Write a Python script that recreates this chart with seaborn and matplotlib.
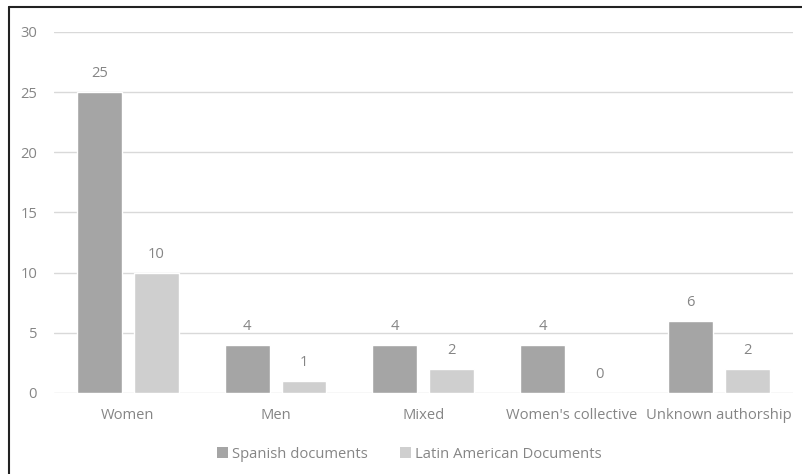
import matplotlib
matplotlib.use("Agg")
import matplotlib.pyplot as plt
import seaborn as sns
import pandas as pd
from matplotlib.lines import Line2D
from matplotlib.patches import Rectangle

categories = ["Women", "Men", "Mixed", "Women's collective", "Unknown authorship"]
spanish = [25, 4, 4, 4, 6]
latin_american = [10, 1, 2, 0, 2]
series_names = ["Spanish documents", "Latin American Documents"]
colors = ["#A5A5A5", "#CFCFCF"]

df = pd.DataFrame({
    "category": categories * 2,
    "value": spanish + latin_american,
    "series": [series_names[0]] * len(categories) + [series_names[1]] * len(categories),
})

sns.set_theme(style="white")
plt.rcParams["font.family"] = ["Open Sans", "DejaVu Sans"]
text_color = "#858585"
fs = 10.6

fig = plt.figure(figsize=(8.03, 4.74), dpi=100)
ax = fig.add_axes([0.067, 0.171, 0.9205, 0.7615])

sns.barplot(data=df, x="category", y="value", hue="series", palette=colors,
            width=0.77, gap=0.21, ax=ax, legend=False, saturation=1)

for cont in ax.containers:
    ax.bar_label(cont, padding=8, color=text_color, fontsize=fs)

ax.set_ylim(0, 30)
ax.set_yticks(range(0, 31, 5))
ax.set_xlim(-0.5, len(categories) - 0.5)
ax.yaxis.grid(True, color="#D9D9D9", linewidth=1)
ax.set_axisbelow(True)
for s in ax.spines.values():
    s.set_visible(False)
ax.tick_params(axis="both", length=0, colors=text_color, labelsize=fs)
ax.tick_params(axis="y", pad=12)
ax.tick_params(axis="x", pad=11)
ax.set_xlabel("")
ax.set_ylabel("")

handles = [Rectangle((0, 0), 1, 1, facecolor=c, edgecolor="none") for c in colors]
fig.legend(handles, series_names, loc="center", bbox_to_anchor=(0.51, 0.042), ncol=2,
           frameon=False, fontsize=fs, labelcolor=text_color, handlelength=0.7,
           handleheight=0.7, handletextpad=0.3, columnspacing=2.2)

# frame lines on the left and top edges of the figure
fig.add_artist(Line2D([0.0118, 0.0118], [0, 0.985], transform=fig.transFigure, color="#222222", linewidth=1.5))
fig.add_artist(Line2D([0.0118, 1], [0.985, 0.985], transform=fig.transFigure, color="#222222", linewidth=1.5))

fig.savefig("out.png", dpi=100)
